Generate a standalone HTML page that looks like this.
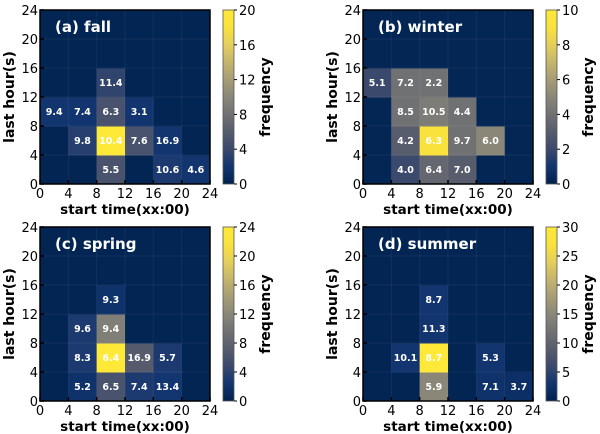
<!DOCTYPE html>
<html><head><meta charset="utf-8"><style>
html,body{margin:0;padding:0;background:#fff;}
svg{display:block;font-family:"DejaVu Sans","Liberation Sans",sans-serif;}
</style></head><body>
<svg id="chart" width="600" height="434" viewBox="0 0 600 434" xmlns="http://www.w3.org/2000/svg"></svg>
<script>
// ---- data ----
const xTicks = [0,4,8,12,16,20,24];
const yTicks = [0,4,8,12,16,20,24];
const fallTitle = "(a) fall", winterTitle = "(b) winter", springTitle = "(c) spring", summerTitle = "(d) summer";
// frequency per cell [row from bottom][col]
const fallFreq = [[0.3,0.3,5,0.3,2.5,2],[0.3,3,20,5,2,0.3],[2,2,5,2,0.3,0.3],[0.3,0.3,3.5,0.3,0.3,0.3],[0.3,0.3,0.3,0.3,0.3,0.3],[0.3,0.3,0.3,0.3,0.3,0.3]];
const winterFreq = [[0.2,2,3.5,3,0.2,0.2],[0.2,3,9,4,5,0.2],[0.2,4,4.5,4,0.2,0.2],[2,4,4,0.2,0.2,0.2],[0.2,0.2,0.2,0.2,0.2,0.2],[0.2,0.2,0.2,0.2,0.2,0.2]];
const springFreq = [[0.4,2,6,3,2.5,0.4],[0.4,3,24,7,3,0.4],[0.4,3,11,0.4,0.4,0.4],[0.4,0.4,2,0.4,0.4,0.4],[0.4,0.4,0.4,0.4,0.4,0.4],[0.4,0.4,0.4,0.4,0.4,0.4]];
const summerFreq = [[0.5,0.5,15,0.5,2.5,2],[0.5,3,30,0.5,3,0.5],[0.5,0.5,3,0.5,0.5,0.5],[0.5,0.5,3,0.5,0.5,0.5],[0.5,0.5,0.5,0.5,0.5,0.5],[0.5,0.5,0.5,0.5,0.5,0.5]];
// printed labels: [row, col, text]
const fallLabels = [[3,2,"11.4"],[2,0,"9.4"],[2,1,"7.4"],[2,2,"6.3"],[2,3,"3.1"],[1,1,"9.8"],[1,2,"10.4"],[1,3,"7.6"],[1,4,"16.9"],[0,2,"5.5"],[0,4,"10.6"],[0,5,"4.6"]];
const winterLabels = [[3,0,"5.1"],[3,1,"7.2"],[3,2,"2.2"],[2,1,"8.5"],[2,2,"10.5"],[2,3,"4.4"],[1,1,"4.2"],[1,2,"6.3"],[1,3,"9.7"],[1,4,"6.0"],[0,1,"4.0"],[0,2,"6.4"],[0,3,"7.0"]];
const springLabels = [[3,2,"9.3"],[2,1,"9.6"],[2,2,"9.4"],[1,1,"8.3"],[1,2,"6.4"],[1,3,"16.9"],[1,4,"5.7"],[0,1,"5.2"],[0,2,"6.5"],[0,3,"7.4"],[0,4,"13.4"]];
const summerLabels = [[3,2,"8.7"],[2,2,"11.3"],[1,1,"10.1"],[1,2,"8.7"],[1,4,"5.3"],[0,2,"5.9"],[0,4,"7.1"],[0,5,"3.7"]];
const fallCbar = [0,4,8,12,16,20], winterCbar = [0,2,4,6,8,10], springCbar = [0,4,8,12,16,20,24], summerCbar = [0,5,10,15,20,25,30];

const stops = [[0,[0,34,78]],[0.1,[18,53,112]],[0.2,[59,73,108]],[0.3,[87,93,109]],[0.4,[112,113,115]],[0.5,[138,135,121]],[0.6,[166,157,117]],[0.7,[196,181,108]],[0.8,[228,207,91]],[0.9,[250,226,60]],[1,[254,232,56]]];
function cividis(t){t=Math.max(0,Math.min(1,t));for(let i=1;i<stops.length;i++){if(t<=stops[i][0]){const a=stops[i-1],b=stops[i];const f=(t-a[0])/(b[0]-a[0]);const c=a[1].map((v,k)=>Math.round(v+(b[1][k]-v)*f));return `rgb(${c[0]},${c[1]},${c[2]})`;}}return 'rgb(254,232,56)';}
const NS="http://www.w3.org/2000/svg";
const svg=document.getElementById('chart');
function mk(tag,attrs,parent,text){const e=document.createElementNS(NS,tag);for(const k in attrs)e.setAttribute(k,attrs[k]);if(text!==undefined)e.textContent=text;(parent||svg).appendChild(e);return e;}

function panel(px,py,title,freq,labels,cbarTicks,key){
  const W=170,H=174;
  const g=mk('g',{});
  
  
  const vmax=cbarTicks[cbarTicks.length-1];
  const xs=v=>px+v/24*W, ys=v=>py+H-v/24*H;
  for(let r=0;r<6;r++)for(let c=0;c<6;c++){
    const cell=mk('rect',{x:xs(c*4),y:ys((r+1)*4),width:W/6+0.5,height:H/6+0.5,fill:cividis(freq[r][c]/vmax)},g);
    
    
  }
  for(let i=1;i<6;i++){mk('line',{x1:xs(i*4),x2:xs(i*4),y1:py,y2:py+H,stroke:'rgba(255,255,255,0.06)','stroke-width':1},g);mk('line',{y1:ys(i*4),y2:ys(i*4),x1:px,x2:px+W,stroke:'rgba(255,255,255,0.06)','stroke-width':1},g);}
  labels.forEach(l=>{const t=mk('text',{x:xs(l[1]*4+2),y:ys(l[0]*4+2)+3.5,'text-anchor':'middle','font-size':9.5,'font-weight':'bold',fill:'#fff'},g,l[2]);
    
    });
  mk('rect',{x:px,y:py,width:W,height:H,fill:'none',stroke:'#000','stroke-width':1.5},g);
  xTicks.forEach(v=>{mk('line',{x1:xs(v),x2:xs(v),y1:py+H,y2:py+H-4,stroke:'#000','stroke-width':1.5},g);
    const t=mk('text',{x:xs(v),y:py+H+14,'text-anchor':'middle','font-size':13,fill:'#000'},g,v);
    });
  yTicks.forEach(v=>{mk('line',{x1:px,x2:px+4,y1:ys(v),y2:ys(v),stroke:'#000','stroke-width':1.5},g);
    const t=mk('text',{x:px-2,y:ys(v)+5,'text-anchor':'end','font-size':13,fill:'#000'},g,v);
    });
  const tt=mk('text',{x:px+15,y:py+22,'font-size':15,'font-weight':'bold',fill:'#fff'},g,title);
  
  const xl=mk('text',{x:px+W/2,y:py+H+30,'text-anchor':'middle','font-size':13.5,'font-weight':'bold',fill:'#000'},g,'start time(xx:00)');
  
  const yl=mk('text',{x:0,y:0,'text-anchor':'middle','font-size':14,'font-weight':'bold',fill:'#000',transform:`translate(${px-26},${py+H/2}) rotate(-90)`},g,'last hour(s)');
  
  // colorbar
  const cx=px+W+13,cw=11;
  const gid='grad-'+key;
  const defs=mk('defs',{},g);const lg=mk('linearGradient',{id:gid,x1:0,y1:1,x2:0,y2:0},defs);
  stops.forEach(s=>mk('stop',{offset:s[0],'stop-color':`rgb(${s[1].join(',')})`},lg));
  const cb=mk('rect',{x:cx,y:py,width:cw,height:H,fill:`url(#${gid})`,stroke:'#555','stroke-width':0.8},g);
  
  cbarTicks.forEach(v=>{const y=py+H-v/vmax*H;mk('line',{x1:cx+cw,x2:cx+cw+3,y1:y,y2:y,stroke:'#000'},g);
    const t=mk('text',{x:cx+cw+5,y:y+5,'font-size':13,fill:'#000'},g,v);
    });
  const cl=mk('text',{x:0,y:0,'text-anchor':'middle','font-size':14,'font-weight':'bold',fill:'#000',transform:`translate(${cx+cw+36},${py+H/2}) rotate(-90)`},g,'frequency');
  
}
panel(40,10,fallTitle,fallFreq,fallLabels,fallCbar,'fall');
panel(363,10,winterTitle,winterFreq,winterLabels,winterCbar,'winter');
panel(40,227,springTitle,springFreq,springLabels,springCbar,'spring');
panel(363,227,summerTitle,summerFreq,summerLabels,summerCbar,'summer');
</script>
</body></html>
